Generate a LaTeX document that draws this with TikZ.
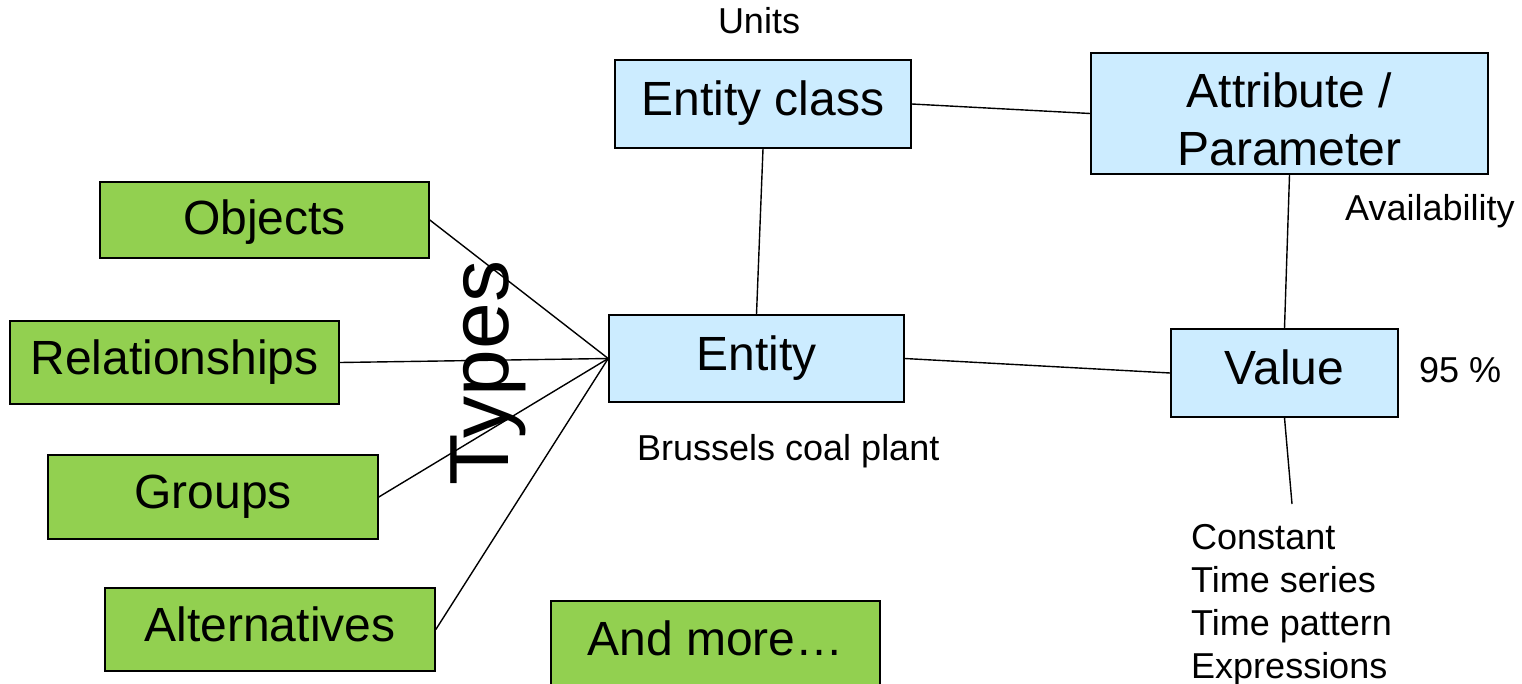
\documentclass[tikz,border=0pt]{standalone}
\usepackage{fontspec}
\setmainfont{Liberation Sans}
\definecolor{boxblue}{HTML}{CCECFF}
\definecolor{boxgreen}{HTML}{92D050}
\begin{document}
\begin{tikzpicture}[x=1pt,y=-1pt,
  basebox/.style={draw=black,line width=1.6pt,inner sep=0pt,text height=34pt,text depth=11pt,
     font=\fontsize{48}{58}\selectfont},
  bluebox/.style={basebox,fill=boxblue},
  greenbox/.style={basebox,fill=boxgreen},
  link/.style={line width=1.4pt},
  small/.style={font=\fontsize{36}{43}\selectfont,inner sep=0pt}]
\useasboundingbox (0,0) rectangle (1522,683);
% blue boxes
\node[bluebox,minimum width=296pt,minimum height=88pt] (eclass) at (763,104) {Entity class};
\node[bluebox,minimum width=397pt,minimum height=121pt,align=center,text height=,text depth=,
      font=\fontsize{48}{58}\selectfont] (attr) at (1289.5,113.5) {\rule{0pt}{46pt}Attribute /\\Parameter};
\node[bluebox,minimum width=295pt,minimum height=87pt] (entity) at (756.5,358.5) {Entity};
\node[bluebox,minimum width=227pt,minimum height=88pt] (value) at (1284.5,373) {Value};
% green boxes
\node[greenbox,minimum width=329pt,minimum height=76pt,text depth=6pt] (objects) at (264.5,220) {Objects};
\node[greenbox,minimum width=329pt,minimum height=83pt] (rel) at (174.5,362.5) {Relationships};
\node[greenbox,minimum width=330pt,minimum height=84pt] (groups) at (213,497) {Groups};
\node[greenbox,minimum width=330pt,minimum height=83pt] (alt) at (270,629.5) {Alternatives};
\node[greenbox,minimum width=329pt,minimum height=86pt] (more) at (715.5,644) {And more…};
% free end
\coordinate (vend) at (1292,504);
% connectors
\draw[link] (eclass.south) -- (entity.north);
\draw[link] (eclass.east) -- (attr.west);
\draw[link] (attr.south) -- (value.north);
\draw[link] (entity.east) -- (value.west);
\draw[link] (value.south) -- (vend);
\draw[link] (objects.east) -- (entity.west);
\draw[link] (rel.east) -- (entity.west);
\draw[link] (groups.east) -- (entity.west);
\draw[link] (alt.east) -- (entity.west);
% texts
\node[small,anchor=base] (units) at (759,33) {Units};
\node[small,anchor=base west] (avail) at (1345,220) {Availability};
\node[small,anchor=base west] (pct) at (1419,382) {95 \%};
\node[small,anchor=base west] (brussels) at (637,460) {Brussels coal plant};
\node[small,anchor=base west,align=left] (kinds) at (1191,678) {Constant\\Time series\\Time pattern\\Expressions};
\node[font=\fontsize{84}{90}\selectfont,inner sep=0pt,rotate=90,anchor=base] (types) at (508,373) {Types};
\end{tikzpicture}
\end{document}
